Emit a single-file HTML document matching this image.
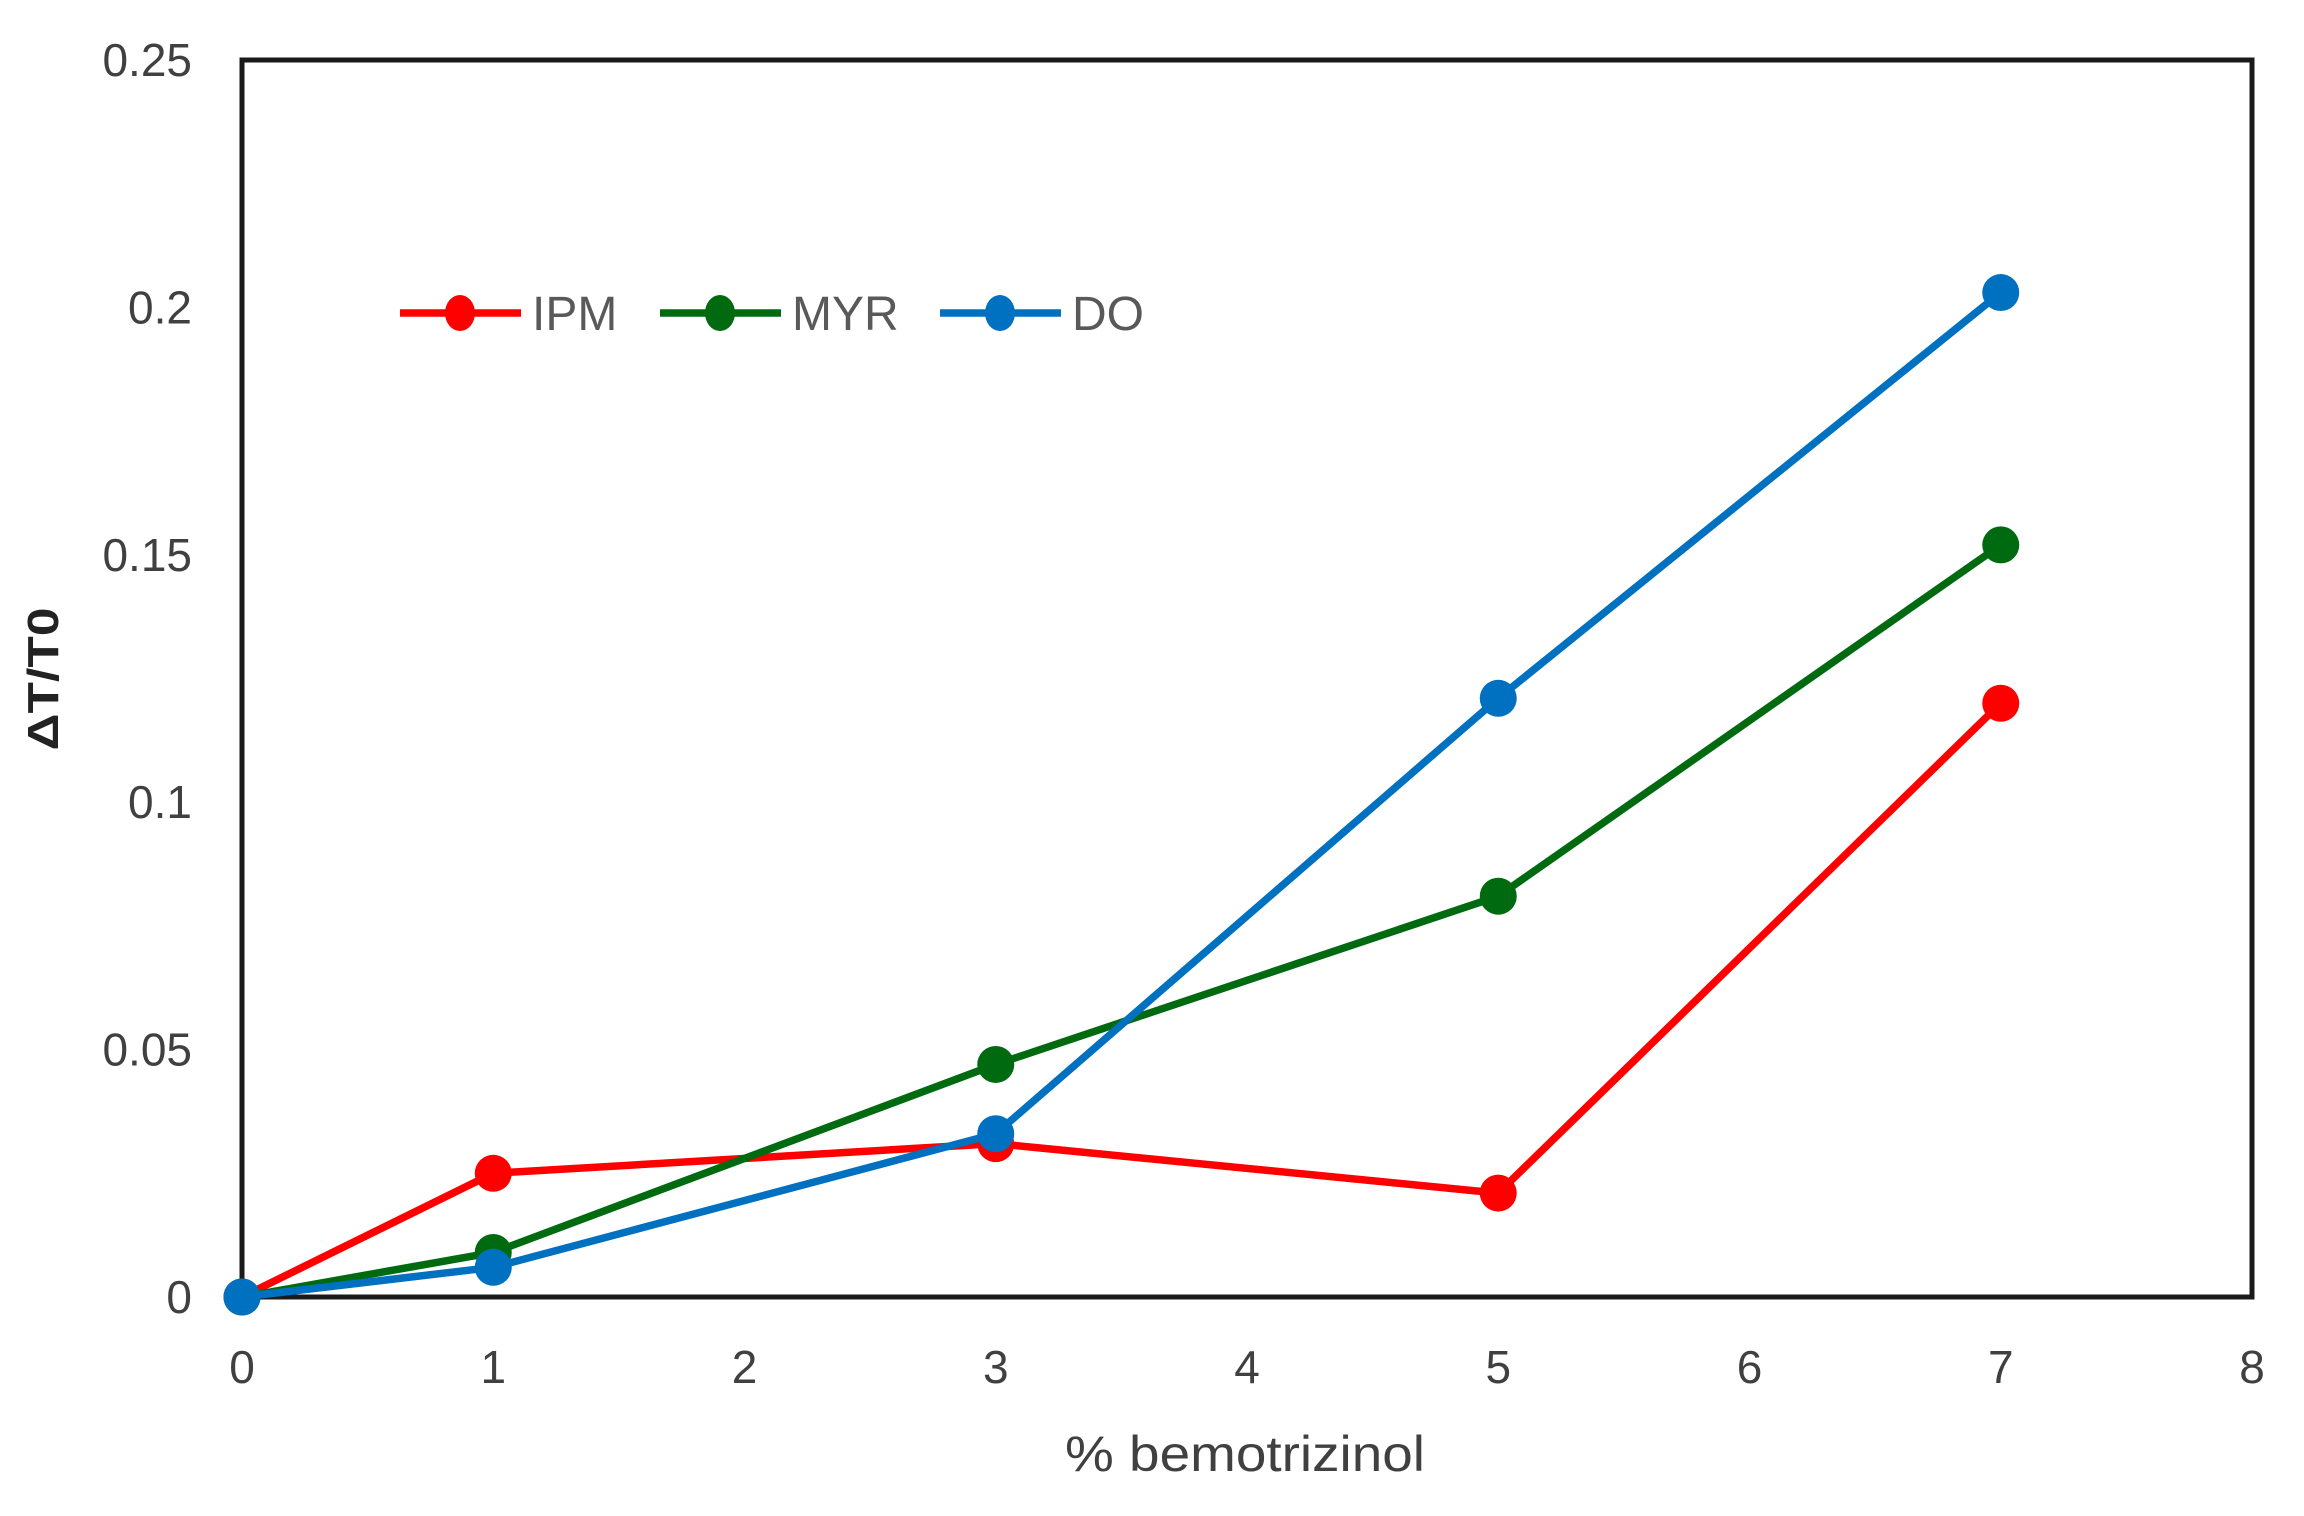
<!DOCTYPE html>
<html><head><meta charset="utf-8"><style>
html,body{margin:0;padding:0;background:#fff;}
svg{display:block;font-family:"Liberation Sans",sans-serif;}
</style></head><body>
<svg id="chart" width="2304" height="1516" viewBox="0 0 2304 1516">
<rect x="0" y="0" width="2304" height="1516" fill="#fff"/>
<g id="axes"></g>
<g id="series"></g>
<g id="legend"></g>
<text x="1245" y="1471" font-size="50" fill="#404040" text-anchor="middle" textLength="360" lengthAdjust="spacingAndGlyphs">% bemotrizinol</text>
<text transform="translate(58,679) rotate(-90)" font-size="44" font-weight="bold" fill="#222" text-anchor="middle" textLength="143" lengthAdjust="spacingAndGlyphs">ΔT/T0</text>
</svg>
<script>
const xCategories = [0, 1, 3, 5, 7];
const ipmValues = [0, 0.025, 0.031, 0.021, 0.120];
const myrValues = [0, 0.009, 0.047, 0.081, 0.152];
const doValues = [0, 0.006, 0.033, 0.121, 0.203];
const xTickLabels = ["0","1","2","3","4","5","6","7","8"];
const yTickLabels = ["0","0.05","0.1","0.15","0.2","0.25"];
const seriesNames = ["IPM","MYR","DO"];

const NS = "http://www.w3.org/2000/svg";
const L = 242, R = 2252, T = 60, B = 1297;
const xMin = 0, xMax = 8, yMin = 0, yMax = 0.25;
function xs(v){ return L + (v - xMin) / (xMax - xMin) * (R - L); }
function ys(v){ return B - (v - yMin) / (yMax - yMin) * (B - T); }
function mk(tag, attrs, parent){ const e = document.createElementNS(NS, tag); for (const k in attrs) e.setAttribute(k, attrs[k]); parent.appendChild(e); return e; }

const axes = document.getElementById('axes');
const frame = mk('rect', {x:L, y:T, width:R-L, height:B-T, fill:'none', stroke:'#1a1a1a', 'stroke-width':5}, axes);



xTickLabels.forEach(function(t){
  const v = parseFloat(t);
  const e = mk('text', {x:xs(v), y:1383, 'font-size':46, fill:'#404040', 'text-anchor':'middle'}, axes);
  e.textContent = t;
  
  
});
yTickLabels.forEach(function(t){
  const v = parseFloat(t);
  const e = mk('text', {x:192, y:ys(v)+16, 'font-size':46, fill:'#404040', 'text-anchor':'end'}, axes);
  e.textContent = t;
  
  
});

const seriesData = [ipmValues, myrValues, doValues];
const colors = ["#ff0000", "#006a10", "#0070c0"];
const sg = document.getElementById('series');
seriesData.forEach(function(vals, i){
  const g = mk('g', {}, sg);
  
  
  const pts = vals.map(function(v, j){ return xs(xCategories[j]) + ',' + ys(v); }).join(' ');
  const pl = mk('polyline', {points:pts, fill:'none', stroke:colors[i], 'stroke-width':7.5, 'stroke-linejoin':'round'}, g);
  
  
  vals.forEach(function(v, j){
    const c = mk('circle', {cx:xs(xCategories[j]), cy:ys(v), r:18.5, fill:colors[i]}, g);
    
    
  });
});

const lg = document.getElementById('legend');
const legX = [400, 660, 940];
seriesNames.forEach(function(n, i){
  const g = mk('g', {}, lg);
  
  
  mk('line', {x1:legX[i], y1:313, x2:legX[i]+121, y2:313, stroke:colors[i], 'stroke-width':7.5}, g);
  mk('ellipse', {cx:legX[i]+60, cy:313, rx:15, ry:18, fill:colors[i]}, g);
  const t = mk('text', {x:legX[i]+132, y:330, 'font-size':48, fill:'#595959'}, g);
  t.textContent = n;
});
</script>
</body></html>
